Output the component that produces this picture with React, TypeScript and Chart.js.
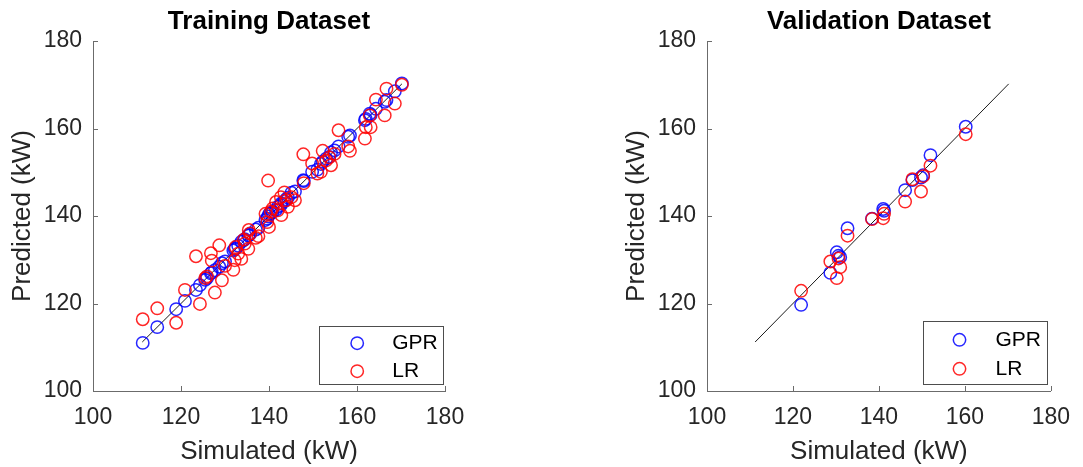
import { useEffect, useRef } from "react";
import { Chart, registerables } from "chart.js";

Chart.register(...registerables);

// Axis range and tick labels shared by both panels
const axisMin = 100;
const axisMax = 180;
const tickValues = [100, 120, 140, 160, 180];

const panelTitles = ["Training Dataset", "Validation Dataset"];
const xAxisLabel = "Simulated (kW)";
const yAxisLabel = "Predicted (kW)";
const seriesNames = ["GPR", "LR"];

// Training set: simulated power and the two model predictions (kW)
const trainSimulated = [
  111.3, 114.6, 118.9, 120.9, 123.4, 124.3, 125.5, 125.9, 126.8, 127.0,
  127.7, 128.7, 129.3, 130.0, 131.9, 132.2, 132.4, 133.0, 133.7, 134.3,
  134.5, 135.3, 135.4, 135.7, 137.0, 137.6, 139.2, 139.6, 139.8, 140.0,
  140.4, 140.8, 141.6, 142.0, 142.7, 142.8, 143.5, 143.9, 144.3, 145.1,
  145.9, 147.8, 147.9, 149.8, 151.0, 151.8, 152.2, 153.0, 153.7, 154.1,
  154.9, 155.8, 158.0, 158.4, 161.8, 162.0, 163.1, 162.9, 164.3, 166.3,
  166.7, 168.6, 170.2,
];
const trainGPR = [
  111.0, 114.6, 118.7, 120.6, 123.1, 124.2, 125.4, 125.8, 126.9, 127.1,
  127.6, 128.4, 129.2, 129.6, 132.1, 132.4, 132.6, 133.2, 134.1, 134.5,
  134.7, 135.5, 135.6, 135.9, 136.9, 137.3, 139.1, 139.4, 139.9, 140.4,
  140.6, 140.9, 141.4, 142.1, 142.5, 142.9, 143.4, 143.8, 144.2, 145.3,
  145.6, 148.2, 148.0, 150.1, 150.6, 151.9, 152.4, 153.1, 153.5, 154.5,
  155.0, 155.9, 158.1, 158.4, 161.9, 162.2, 163.1, 163.4, 164.5, 166.1,
  166.5, 168.5, 170.3,
];
const trainLR = [
  116.4, 118.9, 115.6, 123.1, 130.8, 119.9, 125.8, 126.2, 131.5, 129.8,
  122.5, 133.3, 125.3, 128.6, 127.7, 129.9, 132.9, 131.4, 130.2, 134.6,
  133.7, 132.5, 136.8, 136.0, 135.0, 135.4, 140.5, 138.6, 148.1, 137.5,
  141.0, 141.7, 143.2, 141.3, 144.3, 140.2, 145.4, 143.6, 142.1, 144.3,
  143.6, 154.1, 147.5, 152.0, 149.7, 150.1, 154.9, 152.7, 153.4, 151.6,
  154.2, 159.6, 155.9, 154.9, 157.7, 160.3, 160.3, 163.0, 166.6, 163.0,
  169.1, 165.7, 170.0,
];

// Validation set: simulated power and the two model predictions (kW)
const validSimulated = [
  121.9, 128.7, 130.2, 130.6, 131.0, 132.7, 138.4, 141.0, 141.2, 146.1,
  147.8, 149.8, 150.3, 152.0, 160.2,
];
const validGPR = [
  119.7, 127.0, 131.7, 130.9, 130.6, 137.2, 139.4, 141.6, 141.2, 145.9,
  148.2, 148.8, 149.3, 153.9, 160.4,
];
const validLR = [
  122.9, 129.6, 125.8, 130.3, 128.3, 135.5, 139.3, 139.5, 140.5, 143.3,
  148.4, 145.6, 149.1, 151.5, 158.7,
];

// End points of the y = x reference line
const identityLine = [111.2, 170.2];

const FONT = '"Liberation Sans", Arial, Helvetica, sans-serif';
const TEXT = "#262626";
const AXIS = "#6b6b6b";
const BLUE = "rgba(0, 0, 255, 0.85)";
const RED = "rgba(255, 0, 0, 0.85)";
const MARKER_R = 6.2;
const MARKER_W = 1.5;

// Tick marks pointing into the plot area
const inwardTicks = {
  id: "inwardTicks",
  afterDraw(chart: any, _args: any, opts: any) {
    const { ctx, chartArea, scales } = chart;
    ctx.save();
    ctx.strokeStyle = opts.color;
    ctx.lineWidth = 1;
    ctx.beginPath();
    for (const t of scales.x.ticks) {
      const px = Math.round(scales.x.getPixelForValue(t.value)) + 0.5;
      ctx.moveTo(px, chartArea.bottom);
      ctx.lineTo(px, chartArea.bottom - opts.length);
    }
    for (const t of scales.y.ticks) {
      const py = Math.round(scales.y.getPixelForValue(t.value)) + 0.5;
      ctx.moveTo(chartArea.left, py);
      ctx.lineTo(chartArea.left + opts.length, py);
    }
    ctx.stroke();
    ctx.restore();
  },
};

// Boxed legend in the lower-right corner of the plot area
const boxLegend = {
  id: "boxLegend",
  afterDraw(chart: any, _args: any, opts: any) {
    const { ctx, chartArea } = chart;
    const x = Math.round(chartArea.right - opts.insetRight - opts.width) + 0.5;
    const y = Math.round(chartArea.bottom - opts.insetBottom - opts.height) + 0.5;
    ctx.save();
    ctx.fillStyle = "#ffffff";
    ctx.strokeStyle = opts.borderColor;
    ctx.lineWidth = 1;
    ctx.fillRect(x, y, opts.width, opts.height);
    ctx.strokeRect(x, y, opts.width, opts.height);
    opts.entries.forEach((e: any, i: number) => {
      const ry = y + opts.rows[i];
      ctx.beginPath();
      ctx.strokeStyle = e.color;
      ctx.lineWidth = MARKER_W;
      ctx.arc(x + opts.markerX, ry, MARKER_R, 0, Math.PI * 2);
      ctx.stroke();
      ctx.fillStyle = "#000000";
      ctx.font = `21px ${FONT}`;
      ctx.textBaseline = "middle";
      ctx.textAlign = "left";
      ctx.fillText(e.label, x + opts.textX, ry);
    });
    ctx.restore();
  },
};

function toPoints(xs: number[], ys: number[]) {
  return xs.map((x, i) => ({ x, y: ys[i] }));
}

function buildConfig(
  title: string,
  sim: number[],
  gpr: number[],
  lr: number[],
  padLeft: number,
  padRight: number,
  legend: any
): any {
  const tickFont = { family: FONT, size: 23 };
  const labelFont = { family: FONT, size: 26 };
  const setTicks = (s: any) => {
    s.ticks = tickValues.map((v) => ({ value: v }));
  };
  return {
    type: "scatter",
    data: {
      datasets: [
        {
          label: seriesNames[1],
          data: toPoints(sim, lr),
          borderColor: RED,
          backgroundColor: "transparent",
          pointRadius: MARKER_R,
          pointBorderWidth: MARKER_W,
          order: 0,
        },
        {
          label: seriesNames[0],
          data: toPoints(sim, gpr),
          borderColor: BLUE,
          backgroundColor: "transparent",
          pointRadius: MARKER_R,
          pointBorderWidth: MARKER_W,
          order: 1,
        },
        {
          type: "line",
          label: "y = x",
          data: toPoints(identityLine, identityLine),
          borderColor: "#1a1a1a",
          borderWidth: 1,
          pointRadius: 0,
          fill: false,
          order: 2,
        },
      ],
    },
    options: {
      responsive: false,
      animation: false,
      events: [],
      layout: { padding: { left: padLeft, right: padRight, top: 0, bottom: 0 } },
      scales: {
        x: {
          type: "linear",
          position: "bottom",
          min: axisMin,
          max: axisMax,
          afterBuildTicks: setTicks,
          afterFit: (s: any) => {
            s.height = 76;
          },
          grid: { display: false, drawTicks: false },
          border: { display: true, color: AXIS, width: 1 },
          ticks: {
            color: TEXT,
            font: tickFont,
            padding: 13,
            maxRotation: 0,
            autoSkip: false,
            callback: (v: any) => String(v),
          },
          title: {
            display: true,
            text: xAxisLabel,
            color: TEXT,
            font: labelFont,
            padding: { top: 0, bottom: 0 },
          },
        },
        y: {
          type: "linear",
          position: "left",
          min: axisMin,
          max: axisMax,
          afterBuildTicks: setTicks,
          afterFit: (s: any) => {
            s.width = 93;
          },
          grid: { display: false, drawTicks: false },
          border: { display: true, color: AXIS, width: 1 },
          ticks: {
            color: TEXT,
            font: tickFont,
            padding: 11,
            autoSkip: false,
            callback: (v: any) => String(v),
          },
          title: {
            display: true,
            text: yAxisLabel,
            color: TEXT,
            font: labelFont,
            padding: { top: 7.4, bottom: 0 },
          },
        },
      },
      plugins: {
        legend: { display: false },
        tooltip: { enabled: false },
        title: {
          display: true,
          text: title,
          color: "#000000",
          fullSize: false,
          font: { family: FONT, size: 26, weight: "bold" },
          padding: { top: 6.1, bottom: 3.7 },
        },
        inwardTicks: { color: AXIS, length: 5 },
        boxLegend: {
          ...legend,
          borderColor: "#4d4d4d",
          entries: [
            { label: seriesNames[0], color: BLUE },
            { label: seriesNames[1], color: RED },
          ],
        },
      },
    },
    plugins: [inwardTicks, boxLegend],
  };
}

function Panel(props: {
  left: number;
  width: number;
  config: () => any;
}) {
  const ref = useRef<HTMLCanvasElement | null>(null);
  useEffect(() => {
    if (!ref.current) return;
    const chart = new Chart(ref.current, props.config());
    return () => chart.destroy();
  }, []);
  return (
    <canvas
      ref={ref}
      width={props.width}
      height={467}
      style={{
        position: "absolute",
        left: props.left,
        top: 0,
        width: props.width,
        height: 467,
      }}
    />
  );
}

export default function App() {
  return (
    <div
      style={{
        position: "absolute",
        left: 0,
        top: 0,
        width: 1083,
        height: 467,
        background: "#ffffff",
      }}
    >
      <Panel
        left={0}
        width={540}
        config={() =>
          buildConfig(panelTitles[0], trainSimulated, trainGPR, trainLR, 0, 95, {
            insetRight: 2,
            insetBottom: 7,
            width: 124,
            height: 58,
            rows: [16.7, 44.7],
            markerX: 37.7,
            textX: 72.7,
          })
        }
      />
      <Panel
        left={540}
        width={543}
        config={() =>
          buildConfig(panelTitles[1], validSimulated, validGPR, validLR, 74, 24, {
            insetRight: 4,
            insetBottom: 7,
            width: 124,
            height: 63,
            rows: [18.3, 47.3],
            markerX: 36,
            textX: 72,
          })
        }
      />
    </div>
  );
}
